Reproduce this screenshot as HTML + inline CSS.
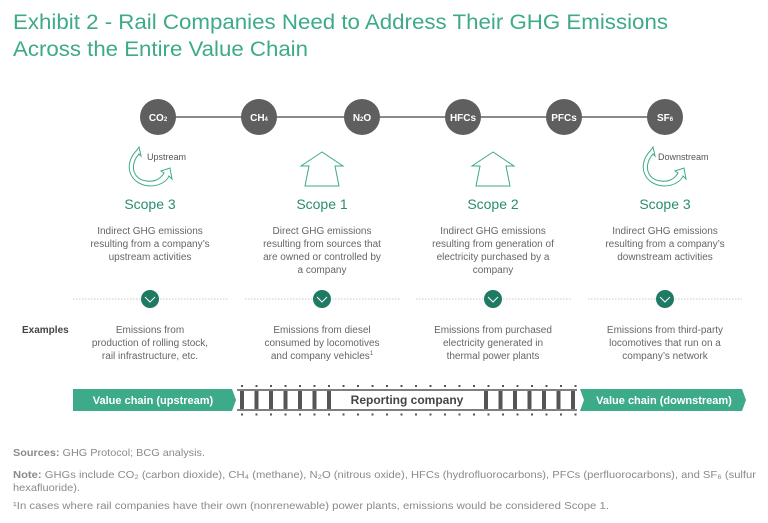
<!DOCTYPE html>
<html><head><meta charset="utf-8"><style>
body{margin:0;background:#fff}
svg{display:block;font-family:"Liberation Sans",sans-serif}
</style></head><body>
<svg width="768" height="523" viewBox="0 0 768 523" xmlns="http://www.w3.org/2000/svg">
<text x="13" y="29" font-size="21" fill="#3daa8a" textLength="655" lengthAdjust="spacingAndGlyphs">Exhibit 2 - Rail Companies Need to Address Their GHG Emissions</text>
<text x="13" y="56" font-size="21" fill="#3daa8a" textLength="295" lengthAdjust="spacingAndGlyphs">Across the Entire Value Chain</text>
<line x1="150" y1="117" x2="665" y2="117" stroke="#8a8a8a" stroke-width="2"/>
<g fill="#5f5f5f">
<circle cx="158" cy="117" r="18"/><circle cx="259" cy="117" r="18"/><circle cx="362" cy="117" r="18"/>
<circle cx="463" cy="117" r="18"/><circle cx="564" cy="117" r="18"/><circle cx="665" cy="117" r="18"/>
</g>
<g fill="#fff" font-size="10" font-weight="bold" text-anchor="middle">
<text x="158" y="121">CO<tspan font-size="6">2</tspan></text>
<text x="259" y="121">CH<tspan font-size="6">4</tspan></text>
<text x="362" y="121">N<tspan font-size="6">2</tspan>O</text>
<text x="463" y="121">HFCs</text>
<text x="564" y="121">PFCs</text>
<text x="665" y="121">SF<tspan font-size="6">6</tspan></text>
</g>
<g fill="none" stroke="#3daa8a" stroke-width="1">
<path d="M137 150 C122 165 130 185 150 186 C160 186 167 181 169 176 L172 179 L170 168 L161 171 L164 173 C160 180 153 182 147 181 C133 180 129 165 139 154 L141 156 L139 147 Z"/>
<path d="M651 150 C636 165 644 185 664 186 C674 186 681 181 683 176 L686 179 L684 168 L675 171 L678 173 C674 180 667 182 661 181 C647 180 643 165 653 154 L655 156 L653 147 Z"/>
<path d="M322 152 L301 166 L309 166 L305 186 L339 186 L335 166 L343 166 Z"/>
<path d="M493 152 L472 166 L480 166 L476 186 L510 186 L506 166 L514 166 Z"/>
</g>
<g font-size="9" fill="#555"><text x="147" y="160">Upstream</text><text x="658" y="160">Downstream</text></g>
<g font-size="14" fill="#2a8c72" text-anchor="middle">
<text x="150" y="209">Scope 3</text><text x="322" y="209">Scope 1</text><text x="493" y="209">Scope 2</text><text x="665" y="209">Scope 3</text>
</g>
<g font-size="10" fill="#666" text-anchor="middle">
<text x="150" y="234">Indirect GHG emissions</text><text x="150" y="247">resulting from a company’s</text><text x="150" y="260">upstream activities</text>
<text x="322" y="234">Direct GHG emissions</text><text x="322" y="247">resulting from sources that</text><text x="322" y="260">are owned or controlled by</text><text x="322" y="273">a company</text>
<text x="493" y="234">Indirect GHG emissions</text><text x="493" y="247">resulting from generation of</text><text x="493" y="260">electricity purchased by a</text><text x="493" y="273">company</text>
<text x="665" y="234">Indirect GHG emissions</text><text x="665" y="247">resulting from a company’s</text><text x="665" y="260">downstream activities</text>
</g>
<g stroke="#c8c8c8" stroke-width="1" stroke-dasharray="1.5,1.5">
<line x1="73" y1="299" x2="228" y2="299"/><line x1="245" y1="299" x2="400" y2="299"/>
<line x1="416" y1="299" x2="571" y2="299"/><line x1="588" y1="299" x2="742" y2="299"/>
</g>
<g fill="#1f7a64">
<circle cx="150" cy="299" r="9"/><circle cx="322" cy="299" r="9"/><circle cx="493" cy="299" r="9"/><circle cx="665" cy="299" r="9"/>
</g>
<g fill="none" stroke="#fff" stroke-width="1">
<path d="M145 297 L150 302 L155 297"/><path d="M317 297 L322 302 L327 297"/><path d="M488 297 L493 302 L498 297"/><path d="M660 297 L665 302 L670 297"/>
</g>
<text x="22" y="333" font-size="10" font-weight="bold" fill="#444">Examples</text>
<g font-size="10" fill="#666" text-anchor="middle">
<text x="150" y="333">Emissions from</text><text x="150" y="346">production of rolling stock,</text><text x="150" y="359">rail infrastructure, etc.</text>
<text x="322" y="333">Emissions from diesel</text><text x="322" y="346">consumed by locomotives</text><text x="322" y="359">and company vehicles<tspan font-size="6" dy="-4">1</tspan></text>
<text x="493" y="333">Emissions from purchased</text><text x="493" y="346">electricity generated in</text><text x="493" y="359">thermal power plants</text>
<text x="665" y="333">Emissions from third-party</text><text x="665" y="346">locomotives that run on a</text><text x="665" y="359">company’s network</text>
</g>
<path d="M73 389 L232 389 L236 400 L232 411 L73 411 Z" fill="#3daa8a"/>
<path d="M580 389 L742 389 L746 400 L742 411 L580 411 L584 400 Z" fill="#3daa8a"/>
<g font-size="11" font-weight="bold" fill="#fff" text-anchor="middle">
<text x="153" y="404">Value chain (upstream)</text><text x="664" y="404">Value chain (downstream)</text>
</g>
<g stroke="#555" stroke-width="1.5"><line x1="237" y1="390" x2="577" y2="390"/><line x1="237" y1="410" x2="577" y2="410"/></g>
<g fill="#555">
<rect x="240" y="391" width="4" height="18"/><rect x="254.5" y="391" width="4" height="18"/><rect x="269" y="391" width="4" height="18"/><rect x="283.5" y="391" width="4" height="18"/><rect x="298" y="391" width="4" height="18"/><rect x="312.5" y="391" width="4" height="18"/><rect x="327" y="391" width="4" height="18"/>
<rect x="484" y="391" width="4" height="18"/><rect x="498.5" y="391" width="4" height="18"/><rect x="513" y="391" width="4" height="18"/><rect x="527.5" y="391" width="4" height="18"/><rect x="542" y="391" width="4" height="18"/><rect x="556.5" y="391" width="4" height="18"/><rect x="571" y="391" width="4" height="18"/>
</g>
<g stroke="#555" stroke-width="2" stroke-dasharray="2,12.5">
<line x1="241" y1="386" x2="578" y2="386"/><line x1="241" y1="414.5" x2="578" y2="414.5"/>
</g>
<text x="407" y="404" font-size="12" font-weight="bold" fill="#444" text-anchor="middle">Reporting company</text>
<g font-size="10.5" fill="#8a8a8a">
<text x="13" y="456" textLength="192" lengthAdjust="spacingAndGlyphs"><tspan font-weight="bold">Sources:</tspan> GHG Protocol; BCG analysis.</text>
<text x="13" y="478" textLength="743" lengthAdjust="spacingAndGlyphs"><tspan font-weight="bold">Note:</tspan> GHGs include CO₂ (carbon dioxide), CH₄ (methane), N₂O (nitrous oxide), HFCs (hydrofluorocarbons), PFCs (perfluorocarbons), and SF₆ (sulfur</text>
<text x="13" y="491" textLength="67" lengthAdjust="spacingAndGlyphs">hexafluoride).</text>
<text x="13" y="509" textLength="596" lengthAdjust="spacingAndGlyphs">¹In cases where rail companies have their own (nonrenewable) power plants, emissions would be considered Scope 1.</text>
</g>
</svg>
</body></html>
